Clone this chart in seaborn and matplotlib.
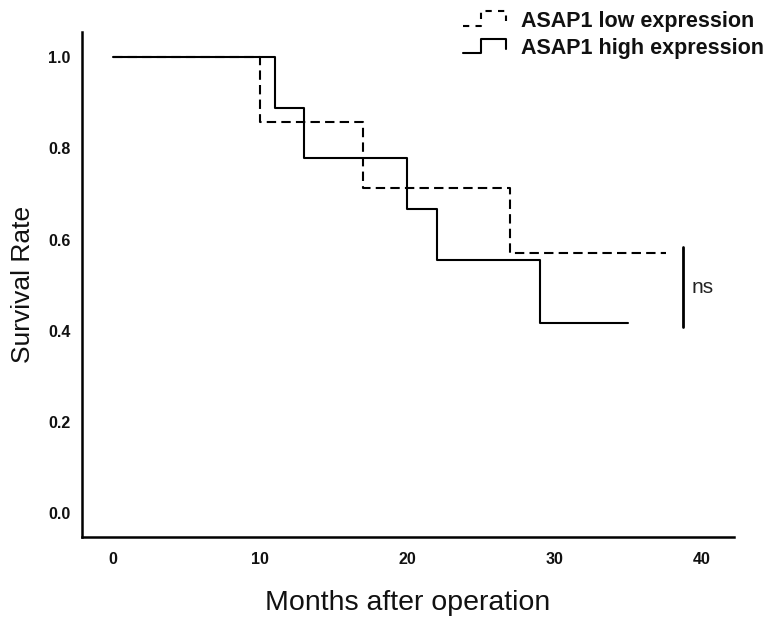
import matplotlib
matplotlib.use("Agg")
import matplotlib.pyplot as plt
import seaborn as sns
import pandas as pd
from matplotlib.lines import Line2D
from matplotlib.legend_handler import HandlerBase

# ---- data ----
low_months = [0, 10, 17, 27, 37.6]
low_survival = [1.0, 0.857, 0.714, 0.571, 0.571]
high_months = [0, 11, 13, 20, 22, 29, 35]
high_survival = [1.0, 0.889, 0.778, 0.667, 0.556, 0.417, 0.417]
series_labels = ["ASAP1 low expression", "ASAP1 high expression"]
x_ticks = [0, 10, 20, 30, 40]
y_ticks = [0.0, 0.2, 0.4, 0.6, 0.8, 1.0]
ns_range = [0.584, 0.407]
ns_x = 38.75
ns_text = "ns"

sns.set_theme(style="white")
plt.rcParams["font.family"] = ["Liberation Sans", "DejaVu Sans"]

fig = plt.figure(figsize=(7.71, 6.21), dpi=100)
ax = fig.add_axes([0.106, 0.1358, 0.846, 0.8132])

df_low = pd.DataFrame({"Months": low_months, "Survival": low_survival})
df_high = pd.DataFrame({"Months": high_months, "Survival": high_survival})

dash = (0, (4.5, 2.5))
sns.lineplot(data=df_high, x="Months", y="Survival", ax=ax, color="black",
             lw=1.5, linestyle="-", drawstyle="steps-post",
             estimator=None, sort=False)
sns.lineplot(data=df_low, x="Months", y="Survival", ax=ax, color="black",
             lw=1.5, linestyle=dash, drawstyle="steps-post",
             estimator=None, sort=False)

# ns bracket
ax.plot([ns_x, ns_x], ns_range, color="black", lw=2)
ax.text(ns_x + 0.55, sum(ns_range) / 2, ns_text, fontsize=15,
        ha="left", va="center", color="#222222")

ax.set_xlim(-2.1, 42.2)
ax.set_ylim(-0.052, 1.056)
ax.set_xticks(x_ticks)
ax.set_xticklabels([str(t) for t in x_ticks])
ax.set_yticks(y_ticks)
ax.set_yticklabels([f"{t:.1f}" for t in y_ticks])
ax.tick_params(axis="x", length=0, pad=11, labelsize=11.5)
ax.tick_params(axis="y", length=0, pad=8, labelsize=11.5)
for lab in ax.get_xticklabels() + ax.get_yticklabels():
    lab.set_fontweight("bold")
    lab.set_color("#111111")

for s in ["top", "right"]:
    ax.spines[s].set_visible(False)
for s in ["left", "bottom"]:
    ax.spines[s].set_color("black")
    ax.spines[s].set_linewidth(1.8)

ax.set_xlabel("Months after operation", fontsize=20.5, color="#111111")
ax.set_ylabel("Survival Rate", fontsize=19, color="#111111")
ax.xaxis.set_label_coords(0.5, -0.106)
ax.yaxis.set_label_coords(-0.072, 0.5)


class StepHandler(HandlerBase):
    def create_artists(self, legend, orig_handle, xdescent, ydescent,
                       width, height, fontsize, trans):
        x0 = -xdescent
        y0 = -ydescent
        xs = [x0, x0 + 0.42 * width, x0 + 0.42 * width, x0 + width, x0 + width]
        ys = [y0 + 0.05 * height, y0 + 0.05 * height, y0 + 1.0 * height,
              y0 + 1.0 * height, y0 + 0.35 * height]
        ln = Line2D(xs, ys, color=orig_handle.get_color(),
                    linestyle=orig_handle.get_linestyle(),
                    linewidth=orig_handle.get_linewidth())
        if orig_handle.get_linestyle() not in ("-", "solid"):
            ln.set_dashes((3, 3))
        ln.set_transform(trans)
        return [ln]


h_low = Line2D([], [], color="black", lw=1.5, linestyle="--")
h_high = Line2D([], [], color="black", lw=1.5, linestyle="-")
leg = fig.legend([h_low, h_high], series_labels, loc="upper left",
                 bbox_to_anchor=(0.6005, 0.983), frameon=False,
                 handler_map={Line2D: StepHandler()},
                 prop={"weight": "bold", "size": 15.5},
                 handlelength=2.0, handletextpad=0.7, labelspacing=0.3,
                 borderpad=0, borderaxespad=0)
for t in leg.get_texts():
    t.set_color("#111111")

fig.savefig("out.png", dpi=100)
